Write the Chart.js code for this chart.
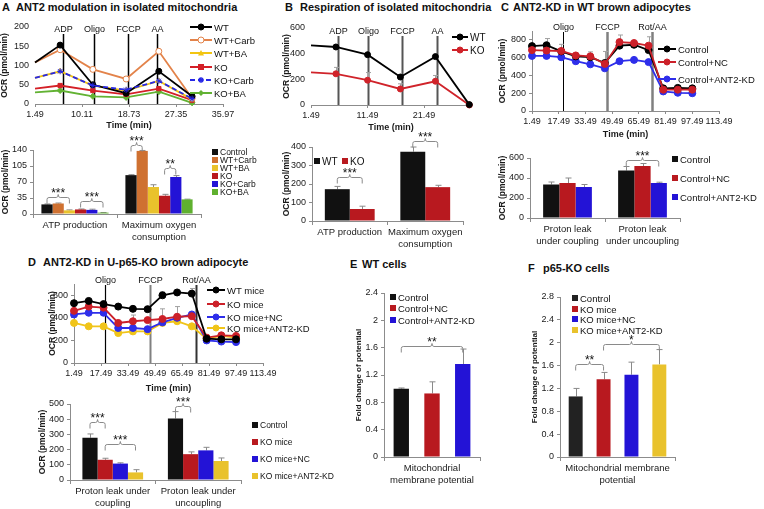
<!DOCTYPE html>
<html>
<head>
<meta charset="utf-8">
<title>ANT2 figure</title>
<script src="https://cdn.jsdelivr.net/npm/chart.js@4.4.1/dist/chart.umd.min.js"></script>
<style>
  body { margin: 0; width: 764px; height: 509px; position: relative; overflow: hidden; background: #fff;
         font-family: "Liberation Sans", Arial, sans-serif; color: #111; }
  canvas { position: absolute; }
  .t { position: absolute; font-weight: bold; font-size: 11px; line-height: 12px; white-space: nowrap; }
  .lg { position: absolute; display: flex; align-items: center; white-space: nowrap; height: 14px; }
  .sq { display: inline-block; margin-right: 2px; }
</style>
</head>
<body>
<div class="t" style="left:2px;top:1px">A&nbsp;&nbsp;ANT2 modulation in isolated mitochondria</div>
<div class="t" style="left:285px;top:1px">B</div>
<div class="t" style="left:300px;top:1px">Respiration of isolated mitochondria</div>
<div class="t" style="left:501px;top:1px">C</div>
<div class="t" style="left:513px;top:1px">ANT2-KD in WT brown adipocytes</div>
<div class="t" style="left:28px;top:256px">D</div>
<div class="t" style="left:43px;top:256px">ANT2-KD in U-p65-KO brown adipocyte</div>
<div class="t" style="left:350px;top:258px">E</div>
<div class="t" style="left:362px;top:258px">WT cells</div>
<div class="t" style="left:528px;top:262px">F</div>
<div class="t" style="left:543px;top:262px">p65-KO cells</div>

<script>
// ========== DATA ==========
// A - OCR time course, isolated mitochondria
const timeA = [1.49, 6.1, 12.1, 18.2, 24.2, 30.3];
const timeTicksA = [1.49, 10.11, 18.73, 27.35, 35.97];
const injectA = [6.6, 12.3, 18.5, 23.8];
const injectNamesA = ["ADP", "Oligo", "FCCP", "AA"];
const groupsA = ["WT", "WT+Carb", "WT+BA", "KO", "KO+Carb", "KO+BA"];
const wtA = [108, 153, 50, 28, 85, 20];
const wtCarbA = [108, 141, 90, 65, 137, 15];
const wtBaA = [68, 85, 48, 35, 60, 12];
const koA = [40, 48, 35, 25, 40, 10];
const koCarbA = [68, 85, 48, 37, 60, 14];
const koBaA = [30, 35, 20, 17, 32, 3];

// A - bars
const catsAbar = [["ATP production"], ["Maximum oxygen", "consumption"]];
const groupsAbar = ["Control", "WT+Carb", "WT+BA", "KO", "KO+Carb", "KO+BA"];
const atpA = [21, 23, 8, 10, 9, 3];
const atpErrA = [1, 1, 1, 1, 1.5, 0.3];
const maxA = [85, 138, 59, 40, 81, 32];
const maxErrA = [1, 1, 5, 3, 3, 0.5];

// B - OCR time course
const timeB = [1.49, 5.9, 11.5, 17.3, 23.5, 29.5];
const timeTicksB = [1.49, 11.49, 21.49];
const injectB = [6.2, 11.6, 17.6, 23.8];
const groupsB = ["WT", "KO"];
const wtB = [465, 452, 392, 218, 377, 3];
const koB = [255, 243, 193, 125, 185, 0];
const koErrB = [0, 50, 60, 40, 45, 0];

// B - bars
const catsBbar = [["ATP production"], ["Maximum oxygen", "consumption"]];
const wtBbar = [172, 375];
const wtErrBbar = [15, 25];
const koBbar = [65, 183];
const koErrBbar = [15, 10];

// C / D - Seahorse time course
const timeCD = [1.49, 10.2, 19.0, 27.7, 36.4, 45.1, 53.9, 62.6, 71.3, 80.1, 88.8, 97.5];
const timeTicksCD = [1.49, 17.49, 33.49, 49.49, 65.49, 81.49, 97.49, 113.49];
const injectCD = [20, 46.5, 73.5];
const injectNamesCD = ["Oligo", "FCCP", "Rot/AA"];

const groupsC = ["Control", "Control+NC", "Control+ANT2-KD"];
const ctrlC = [730, 740, 670, 615, 605, 540, 735, 745, 685, 255, 260, 255];
const ctrlErrC = [0, 75, 80, 0, 60, 130, 0, 0, 0, 0, 25, 0];
const ncC = [685, 680, 675, 625, 615, 530, 775, 765, 735, 240, 240, 240];
const ncErrC = [0, 0, 0, 0, 0, 0, 80, 0, 100, 0, 0, 0];
const kdC = [620, 620, 605, 560, 525, 480, 560, 575, 550, 220, 205, 200];

const catsCbar = [["Proton leak", "under coupling"], ["Proton leak", "under uncoupling"]];
const couplingC = [335, 350, 310];
const couplingErrC = [25, 50, 25];
const uncouplingC = [475, 520, 350];
const uncouplingErrC = [40, 25, 8];

const groupsD = ["WT mice", "KO mice", "KO mice+NC", "KO mice+ANT2-KD"];
const wtD = [530, 550, 522, 500, 480, 477, 600, 625, 615, 215, 210, 210];
const wtErrD = [0, 0, 0, 0, 0, 0, 30, 0, 45, 0, 0, 0];
const koD = [462, 500, 490, 355, 370, 380, 390, 410, 415, 225, 245, 240];
const koErrD = [0, 0, 0, 0, 55, 0, 90, 90, 0, 0, 20, 0];
const ncD = [430, 445, 445, 310, 310, 300, 360, 400, 430, 200, 190, 185];
const kdD = [355, 325, 325, 265, 280, 280, 355, 370, 325, 215, 240, 225];
const kdErrD = [0, 0, 0, 0, 0, 30, 0, 35, 0, 0, 0, 0];

const catsDbar = [["Proton leak under", "coupling"], ["Proton leak under", "uncoupling"]];
const groupsDbar = ["Control", "KO mice", "KO mice+NC", "KO mice+ANT2-KD"];
const couplingD = [278, 133, 108, 50];
const couplingErrD = [25, 10, 5, 18];
const uncouplingD = [405, 170, 195, 125];
const uncouplingErrD = [45, 15, 20, 20];

// E / F - membrane potential
const catsE = [["Mitochondrial", "membrane potential"]];
const groupsE = ["Control", "Control+NC", "Control+ANT2-KD"];
const foldE = [1.0, 0.93, 1.36];
const foldErrE = [0.01, 0.17, 0.22];

const catsF = [["Mitochondrial membrane", "potential"]];
const groupsF = ["Control", "KO mice", "KO mice+NC", "KO mice+ANT2-KD"];
const foldF = [1.06, 1.36, 1.44, 1.62];
const foldErrF = [0.14, 0.12, 0.22, 0.26];

// ========== COLOURS ==========
const AXIS = "#8c8c8c";
const BLACK = "#111111", RED = "#b8191f", BLUE = "#2313d6", YELLOW = "#e9c22c", ORANGE = "#cf7131", GREEN = "#5fb02f";

// ========== PLUGINS ==========
const eventLines = {
  id: "eventLines",
  beforeDatasetsDraw(chart, args, o) {
    if (!o.at) return;
    const { ctx, chartArea: a } = chart;
    const x = chart.scales.x;
    ctx.save();
    o.at.forEach((v, i) => {
      const px = Math.round(x.getPixelForValue(v)) + 0.5;
      ctx.strokeStyle = o.colors[i];
      ctx.lineWidth = o.widths[i];
      ctx.beginPath();
      ctx.moveTo(px, a.top + o.lineDy);
      ctx.lineTo(px, a.bottom);
      ctx.stroke();
      ctx.fillStyle = "#111";
      ctx.font = '9px "Liberation Sans", Arial, sans-serif';
      ctx.textAlign = "center";
      ctx.fillText(o.labels[i], px, a.top + o.labelDy);
    });
    ctx.restore();
  },
};

const errorBars = {
  id: "errorBars",
  beforeDatasetsDraw(chart, args, o) {
    const { ctx } = chart;
    const y = chart.scales.y;
    ctx.save();
    chart.data.datasets.forEach((ds, di) => {
      if (!ds.errors) return;
      chart.getDatasetMeta(di).data.forEach((el, i) => {
        const e = ds.errors[i];
        if (!e) return;
        const raw = ds.data[i];
        const v = typeof raw === "object" ? raw.y : raw;
        const y0 = y.getPixelForValue(v), y1 = y.getPixelForValue(v + e);
        const x = Math.round(el.x) + 0.5;
        const cap = o.cap || 3;
        ctx.strokeStyle = o.color || "#8a8a8a";
        ctx.lineWidth = 1;
        ctx.beginPath();
        ctx.moveTo(x, y0);
        ctx.lineTo(x, y1);
        ctx.moveTo(x - cap, y1);
        ctx.lineTo(x + cap, y1);
        ctx.stroke();
      });
    });
    ctx.restore();
  },
};

const brackets = {
  id: "brackets",
  afterDatasetsDraw(chart, args, o) {
    if (!o.items) return;
    const { ctx } = chart;
    const y = chart.scales.y;
    ctx.save();
    o.items.forEach((b) => {
      const xa = chart.getDatasetMeta(b.from).data[b.cat].x;
      const xb = chart.getDatasetMeta(b.to).data[b.cat].x;
      const yp = Math.round(y.getPixelForValue(b.y)) + 0.5;
      const xm = (xa + xb) / 2, leg = o.leg || 6;
      ctx.strokeStyle = "#8a8a8a";
      ctx.lineWidth = 1;
      ctx.beginPath();
      ctx.moveTo(xa, yp + leg);
      ctx.lineTo(xa, yp + 2);
      ctx.quadraticCurveTo(xa, yp, xa + 2, yp);
      ctx.lineTo(xm - 2, yp);
      ctx.quadraticCurveTo(xm, yp, xm, yp - 3);
      ctx.quadraticCurveTo(xm, yp, xm + 2, yp);
      ctx.lineTo(xb - 2, yp);
      ctx.quadraticCurveTo(xb, yp, xb, yp + 2);
      ctx.lineTo(xb, yp + leg);
      ctx.stroke();
      ctx.fillStyle = "#111";
      ctx.font = '12px "Liberation Sans", Arial, sans-serif';
      ctx.textAlign = "center";
      ctx.fillText(b.text, xm, yp - 1);
    });
    ctx.restore();
  },
};

Chart.register(eventLines, errorBars, brackets);
Chart.defaults.font.family = '"Liberation Sans", Arial, sans-serif';
Chart.defaults.font.size = 9;
Chart.defaults.color = "#1a1a1a";
Chart.defaults.animation = false;
Chart.defaults.responsive = false;
Chart.defaults.plugins.legend.display = false;
Chart.defaults.plugins.tooltip.enabled = false;

// ========== HELPERS ==========
// plot = chart area in page pixels, box = room left for axes / padding
function mount(plot, box) {
  const c = document.createElement("canvas");
  const w = plot.r - plot.l + box.yW + box.padR;
  const h = plot.b - plot.t + box.padT + box.xH;
  c.width = w;
  c.height = h;
  c.style.left = plot.l - box.yW + "px";
  c.style.top = plot.t - box.padT + "px";
  c.style.width = w + "px";
  c.style.height = h + "px";
  document.body.appendChild(c);
  return c;
}

function valueAxis(y, box) {
  return {
    min: y.min,
    max: y.max,
    ticks: { stepSize: y.step, padding: 3, font: { size: 9 }, callback: (v) => String(Math.round(v * 10) / 10) },
    grid: { display: y.grid !== false, drawOnChartArea: false, tickLength: 3, color: AXIS },
    border: { display: y.border !== false, color: AXIS },
    title: { display: !!y.title, text: y.title, font: { size: y.titleSize || 8.5, weight: "bold" }, padding: 0 },
    afterFit(s) { s.width = box.yW; s.paddingTop = 0; s.paddingBottom = 0; },
  };
}

function timeAxis(x, box) {
  return {
    type: "linear",
    min: x.min,
    max: x.max,
    afterBuildTicks(s) { s.ticks = x.ticks.map((v) => ({ value: v })); },
    ticks: { autoSkip: false, maxRotation: 0, padding: 2, font: { size: 9 }, callback: (v) => v.toFixed(2) },
    grid: { drawOnChartArea: false, tickLength: 3, color: AXIS },
    border: { color: AXIS },
    title: { display: true, text: "Time (min)", font: { size: 9, weight: "bold" }, padding: 0 },
    afterFit(s) { s.height = box.xH; s.paddingLeft = 0; s.paddingRight = 0; },
  };
}

function catAxis(box, size) {
  return {
    ticks: { font: { size: size || 9.5 }, padding: 2, maxRotation: 0, autoSkip: false },
    grid: { drawOnChartArea: false, tickLength: 4, color: AXIS, offset: true },
    border: { color: AXIS },
    afterFit(s) { s.height = box.xH; s.paddingLeft = 0; s.paddingRight = 0; },
  };
}

function series(times, values, errs, st) {
  const r = st.r || 3;
  return {
    data: times.map((t, i) => ({ x: t, y: values[i] })),
    errors: errs,
    borderColor: st.color,
    backgroundColor: st.color,
    borderWidth: st.w || 1.8,
    borderDash: st.dash || [],
    pointStyle: st.marker || "circle",
    pointRadius: st.skipFirst ? values.map((_, i) => (i ? r : 0)) : r,
    pointBorderColor: st.color,
    pointBackgroundColor: st.fill || st.color,
    pointBorderWidth: 1,
    order: st.order || 0,
    clip: false,
    tension: 0,
  };
}

function lineChart(plot, box, x, y, sets, events) {
  return new Chart(mount(plot, box), {
    type: "line",
    data: { datasets: sets },
    options: {
      layout: { padding: { top: box.padT, right: box.padR, left: 0, bottom: 0 } },
      scales: { x: timeAxis(x, box), y: valueAxis(y, box) },
      plugins: { eventLines: events, errorBars: { cap: 2.5, color: "#a0a0a0" } },
    },
  });
}

function barChart(plot, box, cats, names, values, errs, colors, y, opt) {
  return new Chart(mount(plot, box), {
    type: "bar",
    data: {
      labels: cats,
      datasets: names.map((n, i) => ({
        label: n, data: values[i], errors: errs[i], backgroundColor: colors[i],
        categoryPercentage: opt.cat, barPercentage: opt.bar,
      })),
    },
    options: {
      layout: { padding: { top: box.padT, right: box.padR, left: 0, bottom: 0 } },
      scales: { x: catAxis(box, opt.labelSize), y: valueAxis(y, box) },
      plugins: { errorBars: { cap: 3 }, brackets: { items: opt.brackets || [] } },
    },
  });
}

function markerSvg(st, cx, cy, r) {
  const c = st.color;
  switch (st.marker || "circle") {
    case "triangle":
      return `<polygon points="${cx},${cy - r} ${cx + r},${cy + r * 0.8} ${cx - r},${cy + r * 0.8}" fill="${c}"/>`;
    case "rect":
      return `<rect x="${cx - r}" y="${cy - r}" width="${2 * r}" height="${2 * r}" fill="${c}"/>`;
    case "rectRot":
      return `<polygon points="${cx},${cy - r} ${cx + r},${cy} ${cx},${cy + r} ${cx - r},${cy}" fill="${c}"/>`;
    case "star":
      return `<path d="M${cx - r},${cy}H${cx + r}M${cx},${cy - r}V${cy + r}M${cx - r * 0.7},${cy - r * 0.7}L${cx + r * 0.7},${cy + r * 0.7}M${cx - r * 0.7},${cy + r * 0.7}L${cx + r * 0.7},${cy - r * 0.7}" stroke="${c}" stroke-width="1.3"/>`;
    default:
      return `<circle cx="${cx}" cy="${cy}" r="${r}" fill="${st.fill || c}" stroke="${c}" stroke-width="1"/>`;
  }
}

function lineLegend(x, ys, names, styles, size, w) {
  names.forEach((n, i) => {
    const st = styles[i];
    const d = document.createElement("div");
    d.className = "lg";
    d.style.left = x + "px";
    d.style.top = ys[i] - 7 + "px";
    d.style.fontSize = size + "px";
    const dash = st.dash ? `stroke-dasharray="${st.dash.join(",")}"` : "";
    d.innerHTML = `<svg width="${w}" height="10" style="margin-right:2px"><line x1="0" y1="5" x2="${w}" y2="5" stroke="${st.color}" stroke-width="2" ${dash}/>${markerSvg(st, w / 2, 5, 3)}</svg>${n}`;
    document.body.appendChild(d);
  });
}

function boxLegend(pos, names, colors, size, sq) {
  names.forEach((n, i) => {
    const d = document.createElement("div");
    d.className = "lg";
    d.style.left = pos[i][0] + "px";
    d.style.top = pos[i][1] - 7 + "px";
    d.style.fontSize = size + "px";
    d.innerHTML = `<span class="sq" style="width:${sq}px;height:${sq}px;background:${colors[i]}"></span>${n}`;
    document.body.appendChild(d);
  });
}

// ========== A ==========
const stylesA = [
  { color: "#000000", marker: "circle", skipFirst: true },
  { color: "#e3834a", marker: "circle", fill: "#ffffff", skipFirst: true },
  { color: "#f2c511", marker: "triangle", skipFirst: true },
  { color: "#d42027", marker: "rect", skipFirst: true },
  { color: "#2727e6", marker: "star", dash: [5, 3], order: -1, skipFirst: true },
  { color: "#62b233", marker: "rectRot", skipFirst: true },
];
const valuesA = [wtA, wtCarbA, wtBaA, koA, koCarbA, koBaA];
lineChart(
  { l: 35, t: 27, r: 223, b: 104 }, { yW: 35, xH: 27, padT: 10, padR: 16 },
  { min: 1.49, max: 35.97, ticks: timeTicksA },
  { min: 0, max: 200, step: 50, title: "OCR (pmol/min)", grid: false, border: false },
  valuesA.map((v, i) => series(timeA, v, null, stylesA[i])),
  { at: injectA, labels: injectNamesA, colors: ["#000", "#000", "#000", "#000"], widths: [1.5, 1.5, 1.5, 1.5], lineDy: 7, labelDy: 5 }
);
lineLegend(190, [27, 40, 53, 67, 80, 93], groupsA, stylesA, 9.5, 22);

barChart(
  { l: 33, t: 150, r: 201, b: 214 }, { yW: 32, xH: 32, padT: 18, padR: 4 },
  catsAbar, groupsAbar,
  groupsAbar.map((g, i) => [atpA[i], maxA[i]]),
  groupsAbar.map((g, i) => [atpErrA[i], maxErrA[i]]),
  [BLACK, ORANGE, YELLOW, RED, BLUE, GREEN],
  { min: 0, max: 140, step: 35, title: "OCR (pmol/min)" },
  { cat: 0.8, bar: 1, brackets: [
    { from: 0, to: 2, cat: 0, y: 38, text: "***" },
    { from: 3, to: 5, cat: 0, y: 29, text: "***" },
    { from: 0, to: 1, cat: 1, y: 150, text: "***" },
    { from: 3, to: 4, cat: 1, y: 100, text: "**" },
  ] }
);
boxLegend([[212, 152], [212, 160], [212, 168], [212, 176], [212, 184], [212, 192]], groupsAbar,
  [BLACK, ORANGE, YELLOW, RED, BLUE, GREEN], 8.5, 6);

// ========== B ==========
const stylesB = [
  { color: "#000000", marker: "circle", skipFirst: true },
  { color: "#d0232a", marker: "circle", skipFirst: true },
];
lineChart(
  { l: 311, t: 28, r: 471, b: 105 }, { yW: 29, xH: 28, padT: 10, padR: 6 },
  { min: 1.49, max: 29.8, ticks: timeTicksB },
  { min: 0, max: 600, step: 100, title: "OCR (pmol/min)", grid: false, border: false },
  [series(timeB, wtB, null, stylesB[0]), series(timeB, koB, koErrB, stylesB[1])],
  { at: injectB, labels: injectNamesA, colors: ["#555", "#555", "#555", "#555"], widths: [2, 2, 2, 2], lineDy: 8, labelDy: 6 }
);
lineLegend(452, [37, 50], groupsB, stylesB, 10, 16);

barChart(
  { l: 312, t: 147, r: 463, b: 221 }, { yW: 30, xH: 28, padT: 26, padR: 4 },
  catsBbar, groupsB, [wtBbar, koBbar], [wtErrBbar, koErrBbar], [BLACK, RED],
  { min: 0, max: 400, step: 100, title: "OCR (pmol/min)" },
  { cat: 0.66, bar: 1, brackets: [
    { from: 0, to: 1, cat: 0, y: 238, text: "***" },
    { from: 0, to: 1, cat: 1, y: 430, text: "***" },
  ] }
);
boxLegend([[314, 161], [342, 161]], groupsB, [BLACK, RED], 10, 6);

// ========== C ==========
const stylesC = [
  { color: "#000000", marker: "circle", r: 3.5, order: 1 },
  { color: "#cc2029", marker: "circle", r: 3.5, order: 0 },
  { color: "#2e2eea", marker: "circle", r: 3.5, order: 2 },
];
lineChart(
  { l: 532, t: 31, r: 719, b: 111 }, { yW: 34, xH: 29, padT: 12, padR: 16 },
  { min: 1.49, max: 113.49, ticks: timeTicksCD },
  { min: 0, max: 900, step: 100, title: "OCR (pmol/min)" },
  [series(timeCD, ctrlC, ctrlErrC, stylesC[0]), series(timeCD, ncC, ncErrC, stylesC[1]), series(timeCD, kdC, null, stylesC[2])],
  { at: injectCD, labels: injectNamesCD, colors: ["#000", "#808080", "#808080"], widths: [1, 2.5, 2.5], lineDy: 1, labelDy: -1 }
);
lineLegend(658, [49, 62, 79], groupsC, stylesC, 9.5, 18);

barChart(
  { l: 530, t: 158, r: 680, b: 218 }, { yW: 32, xH: 30, padT: 14, padR: 4 },
  catsCbar, groupsC,
  groupsC.map((g, i) => [couplingC[i], uncouplingC[i]]),
  groupsC.map((g, i) => [couplingErrC[i], uncouplingErrC[i]]),
  [BLACK, RED, BLUE],
  { min: 0, max: 600, step: 100, title: "OCR (pmol/min)" },
  { cat: 0.65, bar: 1, brackets: [{ from: 0, to: 2, cat: 1, y: 575, text: "***" }] }
);
boxLegend([[672, 159], [672, 178], [672, 197]], groupsC, [BLACK, RED, BLUE], 9.5, 6);

// ========== D ==========
const stylesD = [
  { color: "#000000", marker: "circle", r: 3.5 },
  { color: "#cc2029", marker: "circle", r: 3.5 },
  { color: "#2e2eea", marker: "circle", r: 3.5 },
  { color: "#f0c419", marker: "circle", r: 3.5, order: 1 },
];
lineChart(
  { l: 74, t: 284, r: 263, b: 363 }, { yW: 26, xH: 31, padT: 12, padR: 16 },
  { min: 1.49, max: 113.49, ticks: timeTicksCD },
  { min: 0, max: 700, step: 100, title: "OCR (pmol/min)" },
  [series(timeCD, wtD, wtErrD, stylesD[0]), series(timeCD, koD, koErrD, stylesD[1]),
   series(timeCD, ncD, null, stylesD[2]), series(timeCD, kdD, kdErrD, stylesD[3])],
  { at: injectCD, labels: injectNamesCD, colors: ["#000", "#808080", "#333"], widths: [1.2, 2, 2], lineDy: 1, labelDy: -1 }
);
lineLegend(207, [290, 304, 317, 328], groupsD, stylesD, 9.5, 18);

barChart(
  { l: 70, t: 404, r: 241, b: 480 }, { yW: 32, xH: 29, padT: 14, padR: 4 },
  catsDbar, groupsDbar,
  groupsDbar.map((g, i) => [couplingD[i], uncouplingD[i]]),
  groupsDbar.map((g, i) => [couplingErrD[i], uncouplingErrD[i]]),
  [BLACK, RED, BLUE, YELLOW],
  { min: 0, max: 500, step: 100, title: "OCR (pmol/min)" },
  { cat: 0.71, bar: 1, brackets: [
    { from: 0, to: 1, cat: 0, y: 384, text: "***" },
    { from: 1, to: 3, cat: 0, y: 240, text: "***" },
    { from: 0, to: 1, cat: 1, y: 490, text: "***" },
  ] }
);
boxLegend([[252, 425], [252, 442], [252, 459], [252, 476]], groupsDbar, [BLACK, RED, BLUE, YELLOW], 8.5, 6);

// ========== E ==========
barChart(
  { l: 384, t: 293, r: 480, b: 457 }, { yW: 30, xH: 30, padT: 10, padR: 4 },
  catsE, groupsE, foldE.map((v) => [v]), foldErrE.map((v) => [v]), [BLACK, RED, BLUE],
  { min: 0, max: 2.4, step: 0.4, title: "Fold change of potential", titleSize: 8 },
  { cat: 0.96, bar: 0.5, brackets: [{ from: 0, to: 2, cat: 0, y: 1.62, text: "**" }] }
);
boxLegend([[390, 297], [390, 308], [390, 320]], groupsE, [BLACK, RED, BLUE], 9.5, 6);

// ========== F ==========
barChart(
  { l: 560, t: 297, r: 675, b: 457 }, { yW: 30, xH: 30, padT: 10, padR: 4 },
  catsF, groupsF, foldF.map((v) => [v]), foldErrF.map((v) => [v]), ["#222222", RED, BLUE, YELLOW],
  { min: 0, max: 2.8, step: 0.4, title: "Fold change of potential", titleSize: 8 },
  { cat: 0.97, bar: 0.5, brackets: [
    { from: 0, to: 1, cat: 0, y: 1.62, text: "**" },
    { from: 1, to: 3, cat: 0, y: 1.97, text: "*" },
  ] }
);
boxLegend([[572, 298], [572, 309], [572, 319], [572, 330]], groupsF, ["#222222", RED, BLUE, YELLOW], 9.5, 6);
</script>
</body>
</html>
